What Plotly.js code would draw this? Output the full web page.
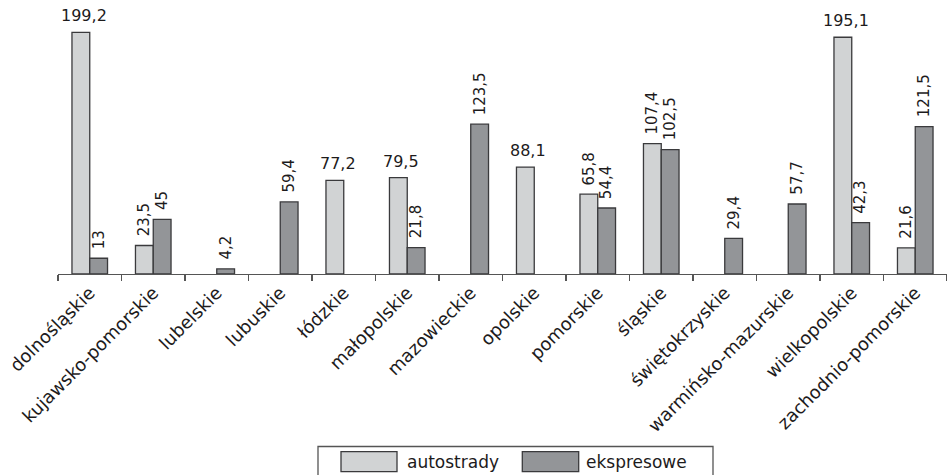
<!DOCTYPE html>
<html>
<head>
<meta charset="utf-8">
<script src="https://cdn.plot.ly/plotly-3.0.1.min.js"></script>
<style>html,body{margin:0;padding:0;background:#fff;}#chart{width:947px;height:475px;}</style>
</head>
<body>
<div id="chart"></div>
<script>
const categories = ["dolnośląskie","kujawsko-pomorskie","lubelskie","lubuskie","łódzkie","małopolskie","mazowieckie","opolskie","pomorskie","śląskie","świętokrzyskie","warmińsko-mazurskie","wielkopolskie","zachodnio-pomorskie"];
const seriesNames = ["autostrady","ekspresowe"];
const autostrady = [199.2,23.5,null,null,77.2,79.5,null,88.1,65.8,107.4,null,null,195.1,21.6];
const ekspresowe = [13,45,4.2,59.4,null,21.8,123.5,null,54.4,102.5,29.4,57.7,42.3,121.5];

// autostrady labels drawn horizontally in the original (all others vertical)
const horizontalA = new Set(["dolnośląskie","łódzkie","małopolskie","opolskie","wielkopolskie"]);

const FONT = "DejaVu Sans, sans-serif";
const TXT = "#1d1b1c";
const fills = ["#d1d3d4","#939598"];
const W = 947, H = 475, ML = 58, MR = 0, MT = 10, MB = 201;
const PW = W-ML-MR, PH = H-MT-MB;
const px2x = p => (p-ML)/PW;
const py2y = p => (H-MB-p)/PH;

const series = [autostrady, ekspresowe];
const traces = series.map((vals,i)=>({
  type:"bar", name:seriesNames[i], x:categories, y:vals,
  marker:{color:fills[i], line:{color:"#3a3a3c", width:1.3}},
  showlegend:false, hoverinfo:"skip"
}));

const fmt = v => String(v).replace(".", ",");
const annotations = [];
const catW = PW/categories.length;
const barGap = 0.44;
const off = catW*(1-barGap)/4;
series.forEach((vals,i)=>{
  vals.forEach((v,j)=>{
    if (v==null) return;
    const rot = !(i===0 && horizontalA.has(categories[j]));
    annotations.push({
      x:categories[j], y:v, xref:"x", yref:"y",
      xshift:(i===0?-off:off) + (rot?0:3), yshift: rot?7:5,
      text:fmt(v), showarrow:false, textangle: rot?-90:0,
      xanchor:"center", yanchor:"bottom",
      font:{family:FONT, size: rot?15:16, color:TXT}
    });
  });
});

// legend drawn as box + swatches
const shapes = [
  {type:"rect", xref:"paper", yref:"paper", x0:px2x(318), x1:px2x(713), y0:py2y(476), y1:py2y(446.5),
   line:{color:"#555", width:1.3}, fillcolor:"rgba(0,0,0,0)"}
];
const sw = [[341,397,405],[522.3,578.7,584]];
sw.forEach((s,i)=>{
  shapes.push({type:"rect", xref:"paper", yref:"paper", x0:px2x(s[0]), x1:px2x(s[1]), y0:py2y(471.7), y1:py2y(451.7),
    fillcolor:fills[i], line:{color:"#3a3a3c", width:1.3}});
  annotations.push({xref:"paper", yref:"paper", x:px2x(s[2]), y:py2y(461.5), xanchor:"left", yanchor:"middle",
    text:seriesNames[i], showarrow:false, font:{family:FONT, size:17, color:TXT}});
});

const layout = {
  width:W, height:H, margin:{l:ML, r:MR, t:MT, b:MB, pad:0},
  paper_bgcolor:"#fff", plot_bgcolor:"#fff",
  barmode:"group", bargap:barGap, bargroupgap:0,
  font:{family:FONT, color:TXT},
  xaxis:{type:"category", range:[-0.5, categories.length-0.5], showline:true, linecolor:"#555", linewidth:1.3,
    ticks:"outside", tickson:"boundaries", ticklen:6, tickcolor:"#555", tickwidth:1.3,
    tickangle:-45, tickfont:{family:FONT, size:18, color:TXT}, showgrid:false, zeroline:false, fixedrange:true},
  yaxis:{range:[0, PH/1.2134], visible:false, showgrid:false, zeroline:false, fixedrange:true},
  shapes:shapes, annotations:annotations, showlegend:false
};
Plotly.newPlot("chart", traces, layout, {displayModeBar:false, staticPlot:true});
</script>
</body>
</html>
